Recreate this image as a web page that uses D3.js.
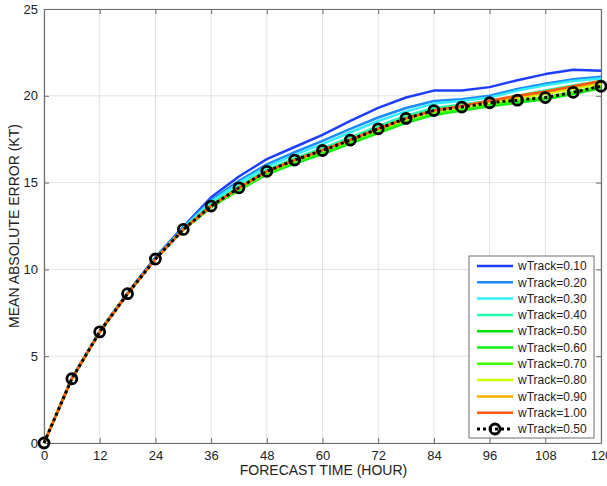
<!DOCTYPE html>
<html>
<head>
<meta charset="utf-8">
<script src="https://cdn.jsdelivr.net/npm/d3@7"></script>
<style>
  body { margin: 0; background: #fff; }
  svg { display: block; font-family: "Liberation Sans", Arial, sans-serif; }
</style>
</head>
<body>
<svg id="chart"></svg>
<script>
"use strict";

// Chart size
const width = 607;
const height = 486;
const margin = { top: 9, right: 6, bottom: 43, left: 44 };

// Data
const hours = [0, 6, 12, 18, 24, 30, 36, 42, 48, 54, 60, 66, 72, 78, 84, 90, 96, 102, 108, 114, 120];
const xTicks = [0, 12, 24, 36, 48, 60, 72, 84, 96, 108, 120];
const yTicks = [0, 5, 10, 15, 20, 25];

const seriesNames = ["wTrack=0.10", "wTrack=0.20", "wTrack=0.30", "wTrack=0.40", "wTrack=0.50",
    "wTrack=0.60", "wTrack=0.70", "wTrack=0.80", "wTrack=0.90", "wTrack=1.00"];
const seriesColors = ["#1f3dff", "#1a8cff", "#33eeff", "#22ffaa", "#00e000",
    "#10ee10", "#40ff00", "#ccff00", "#ffb000", "#ff5a10"];

const w010 = [0, 3.75, 6.45, 8.65, 10.7, 12.45, 14.15, 15.35, 16.35, 17.05, 17.75, 18.55, 19.3, 19.9, 20.3, 20.3, 20.5, 20.9, 21.25, 21.5, 21.45];
const w020 = [0, 3.72, 6.42, 8.62, 10.65, 12.4, 14.0, 15.1, 16.05, 16.75, 17.4, 18.1, 18.75, 19.3, 19.7, 19.8, 20.0, 20.4, 20.7, 20.95, 21.1];
const w030 = [0, 3.71, 6.41, 8.61, 10.63, 12.37, 13.9, 14.98, 15.92, 16.6, 17.22, 17.9, 18.55, 19.1, 19.55, 19.7, 19.9, 20.3, 20.6, 20.85, 21.0];
const w040 = [0, 3.7, 6.4, 8.6, 10.6, 12.33, 13.75, 14.8, 15.75, 16.4, 16.98, 17.6, 18.25, 18.85, 19.3, 19.5, 19.7, 20.0, 20.3, 20.6, 20.85];
const w050 = [0, 3.7, 6.4, 8.6, 10.6, 12.28, 13.6, 14.6, 15.5, 16.15, 16.7, 17.3, 17.9, 18.5, 18.95, 19.2, 19.45, 19.65, 19.85, 20.15, 20.5];
const w060 = [0, 3.7, 6.4, 8.6, 10.6, 12.27, 13.58, 14.57, 15.47, 16.1, 16.65, 17.25, 17.85, 18.45, 18.9, 19.15, 19.4, 19.6, 19.8, 20.1, 20.45];
const w070 = [0, 3.7, 6.4, 8.6, 10.6, 12.28, 13.6, 14.62, 15.55, 16.2, 16.75, 17.35, 17.95, 18.55, 19.0, 19.25, 19.5, 19.7, 19.9, 20.2, 20.55];
const w080 = [0, 3.7, 6.4, 8.6, 10.6, 12.3, 13.65, 14.68, 15.62, 16.28, 16.85, 17.45, 18.05, 18.65, 19.1, 19.35, 19.62, 19.85, 20.1, 20.4, 20.7];
const w090 = [0, 3.7, 6.4, 8.6, 10.6, 12.3, 13.67, 14.7, 15.65, 16.3, 16.88, 17.48, 18.1, 18.7, 19.15, 19.4, 19.7, 19.95, 20.2, 20.5, 20.8];
const w100 = [0, 3.7, 6.4, 8.6, 10.6, 12.3, 13.66, 14.7, 15.65, 16.3, 16.87, 17.47, 18.1, 18.7, 19.15, 19.42, 19.72, 20.0, 20.25, 20.55, 20.85];
// reference run with markers
const refName = "wTrack=0.50";
const wRef = [0, 3.7, 6.4, 8.6, 10.6, 12.3, 13.65, 14.7, 15.65, 16.3, 16.85, 17.45, 18.1, 18.7, 19.15, 19.35, 19.6, 19.75, 19.9, 20.2, 20.55];

const seriesValues = [w010, w020, w030, w040, w050, w060, w070, w080, w090, w100];

// Scales
const plotW = width - margin.left - margin.right;
const plotH = height - margin.top - margin.bottom;
const xScale = d3.scaleLinear().domain([0, 120]).range([0, plotW]);
const yScale = d3.scaleLinear().domain([0, 25]).range([plotH, 0]);

const line = d3.line()
    .x((d, i) => xScale(hours[i]))
    .y(d => yScale(d));

const svg = d3.select("#chart").attr("width", width).attr("height", height);
const g = svg.append("g").attr("transform", `translate(${margin.left}, ${margin.top})`);

// grid
g.append("g").selectAll("line").data(xTicks).join("line")
    .attr("x1", d => xScale(d)).attr("x2", d => xScale(d))
    .attr("y1", 0).attr("y2", plotH)
    .attr("stroke", "#e2e2e2").attr("stroke-width", 1);
g.append("g").selectAll("line").data(yTicks).join("line")
    .attr("y1", d => yScale(d)).attr("y2", d => yScale(d))
    .attr("x1", 0).attr("x2", plotW)
    .attr("stroke", "#e2e2e2").attr("stroke-width", 1);

// axes (inward ticks on all four sides)
function styleAxis(sel) {
    sel.select(".domain").attr("stroke", "#6e6e6e").attr("stroke-width", 1.2);
    sel.selectAll(".tick line").attr("stroke", "#6e6e6e");
    sel.selectAll(".tick text").attr("fill", "#222").style("font-size", "13px")
        .style("font-family", "'Liberation Sans', Arial, sans-serif");
}
g.append("g").attr("transform", `translate(0, ${plotH})`)
    .call(d3.axisBottom(xScale).tickValues(xTicks).tickSizeInner(-5).tickSizeOuter(0).tickPadding(8))
    .call(styleAxis);
g.append("g")
    .call(d3.axisTop(xScale).tickValues(xTicks).tickSizeInner(-5).tickSizeOuter(0).tickFormat(""))
    .call(styleAxis);
g.append("g")
    .call(d3.axisLeft(yScale).tickValues(yTicks).tickSizeInner(-5).tickSizeOuter(0).tickPadding(6))
    .call(styleAxis);
g.append("g").attr("transform", `translate(${plotW}, 0)`)
    .call(d3.axisRight(yScale).tickValues(yTicks).tickSizeInner(-5).tickSizeOuter(0).tickFormat(""))
    .call(styleAxis);

// series lines
g.append("g").selectAll("path").data(seriesValues).join("path")
    .attr("d", d => line(d))
    .attr("fill", "none")
    .attr("stroke", (d, i) => seriesColors[i])
    .attr("stroke-width", 2.5)
    .attr("stroke-linejoin", "round");

// reference line with markers
g.append("path")
    .attr("d", line(wRef))
    .attr("fill", "none")
    .attr("stroke", "#000")
    .attr("stroke-width", 3)
    .attr("stroke-dasharray", "3,3");
g.append("g").selectAll("circle").data(wRef).join("circle")
    .attr("cx", (d, i) => xScale(hours[i]))
    .attr("cy", d => yScale(d))
    .attr("r", 5)
    .attr("fill", "none")
    .attr("stroke", "#000")
    .attr("stroke-width", 2.8);

// axis titles
svg.append("text")
    .attr("x", margin.left + plotW / 2 + 1)
    .attr("y", 475)
    .attr("text-anchor", "middle")
    .style("font-size", "14px")
    .attr("fill", "#222")
    .text("FORECAST TIME (HOUR)");
svg.append("text")
    .attr("transform", `translate(19, ${margin.top + plotH / 2}) rotate(-90)`)
    .attr("text-anchor", "middle")
    .style("font-size", "14px")
    .attr("fill", "#222")
    .text("MEAN ABSOLUTE ERROR (KT)");

// legend
const legend = svg.append("g").attr("transform", "translate(469, 256)");
legend.append("rect")
    .attr("width", 125).attr("height", 182)
    .attr("fill", "#fff").attr("stroke", "#6e6e6e").attr("stroke-width", 1);
const rowH = 16.3;
const entries = seriesNames.map((n, i) => ({ name: n, color: seriesColors[i], ref: false }))
    .concat([{ name: refName, color: "#000", ref: true }]);
const rows = legend.selectAll("g.row").data(entries).join("g")
    .attr("class", "row")
    .attr("transform", (d, i) => `translate(0, ${10 + i * rowH})`);
rows.append("line")
    .attr("x1", 8).attr("x2", 44)
    .attr("stroke", d => d.color)
    .attr("stroke-width", d => d.ref ? 3 : 2.5)
    .attr("stroke-dasharray", d => d.ref ? "3,3" : null);
rows.filter(d => d.ref).append("circle")
    .attr("cx", 26).attr("r", 5)
    .attr("fill", "none").attr("stroke", "#000").attr("stroke-width", 2.8);
rows.append("text")
    .attr("x", 49).attr("dy", "0.35em")
    .style("font-size", "12px")
    .attr("fill", "#222")
    .text(d => d.name);
</script>
</body>
</html>
